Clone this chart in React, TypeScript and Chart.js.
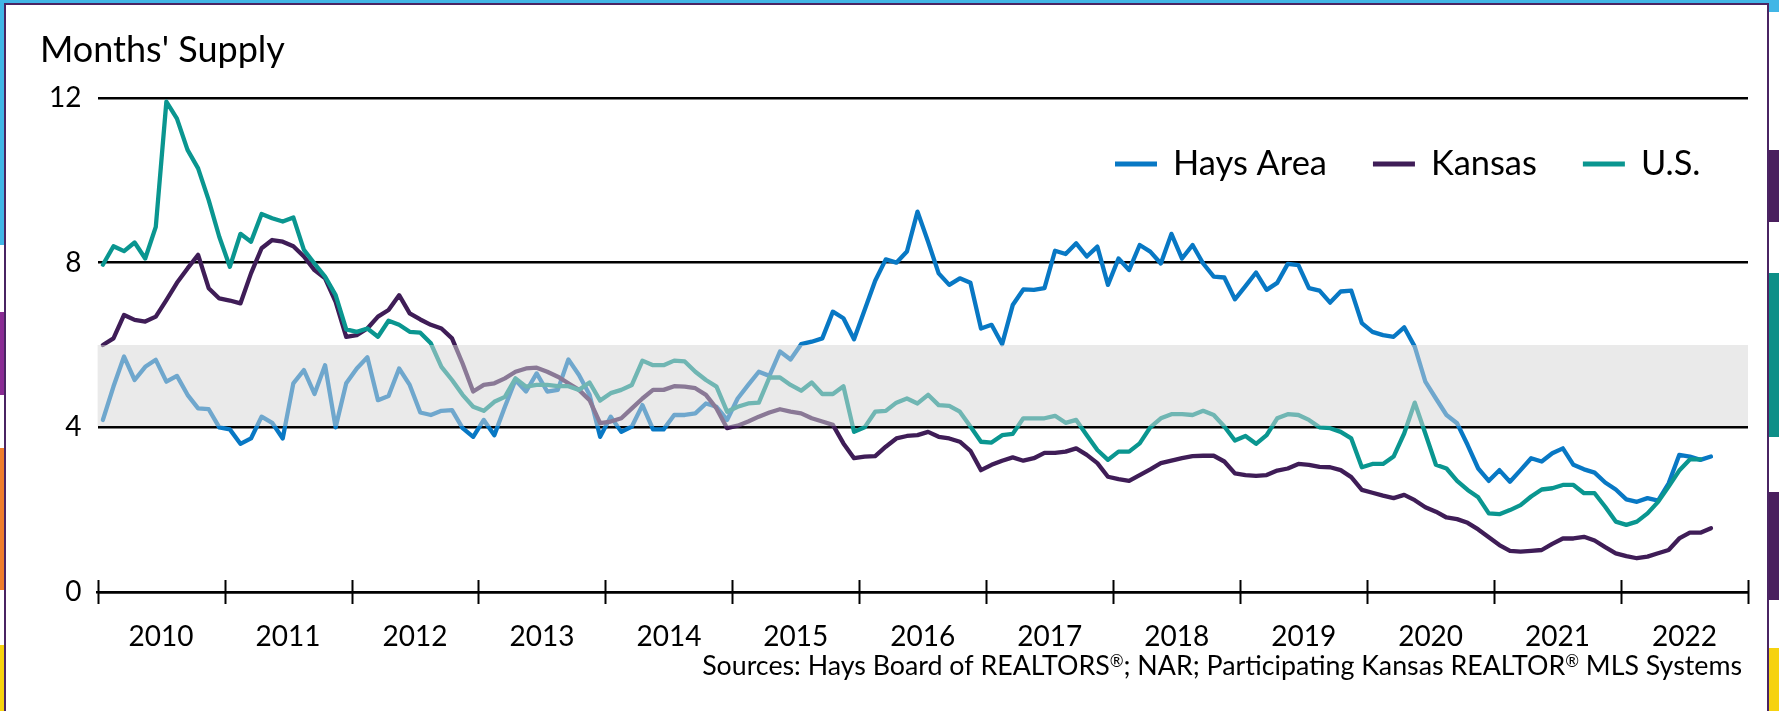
import React, { useEffect, useRef } from "react";
import { Chart, registerables } from "chart.js";

Chart.register(...registerables);

// ---------- data ----------
const YEARS = ["2010", "2011", "2012", "2013", "2014", "2015", "2016", "2017", "2018", "2019", "2020", "2021", "2022"];
const MONTHS = ["Jan", "Feb", "Mar", "Apr", "May", "Jun", "Jul", "Aug", "Sep", "Oct", "Nov", "Dec"];
const CATEGORIES = YEARS.flatMap((y) => MONTHS.map((m) => `${m} ${y}`));

const HAYS_AREA = [
  4.18, 4.99, 5.72, 5.15, 5.47, 5.64, 5.11, 5.25, 4.79, 4.46, 4.44, 4.0,
  3.95, 3.6, 3.73, 4.26, 4.11, 3.73, 5.07, 5.39, 4.81, 5.51, 4.0, 5.07,
  5.43, 5.7, 4.66, 4.76, 5.43, 5.03, 4.36, 4.3, 4.4, 4.42, 3.98, 3.77,
  4.18, 3.81, 4.5, 5.15, 4.87, 5.31, 4.87, 4.91, 5.65, 5.27, 4.79, 3.77,
  4.26, 3.89, 4.02, 4.54, 3.95, 3.95, 4.3, 4.3, 4.34, 4.58, 4.5, 4.18,
  4.7, 5.03, 5.35, 5.25, 5.84, 5.65, 6.02, 6.08, 6.16, 6.81, 6.65, 6.14,
  6.85, 7.56, 8.08, 8.0, 8.27, 9.24, 8.51, 7.74, 7.46, 7.62, 7.51, 6.4,
  6.49, 6.02, 6.97, 7.35, 7.34, 7.38, 8.29, 8.21, 8.47, 8.15, 8.39, 7.46,
  8.1, 7.82, 8.43, 8.27, 7.98, 8.7, 8.1, 8.43, 7.98, 7.66, 7.64, 7.11,
  7.43, 7.76, 7.34, 7.51, 7.97, 7.94, 7.38, 7.32, 7.03, 7.3, 7.32, 6.53,
  6.32, 6.24, 6.2, 6.43, 5.96, 5.11, 4.7, 4.3, 4.1, 3.57, 3.0, 2.7,
  2.96, 2.68, 2.96, 3.25, 3.17, 3.37, 3.49, 3.09, 2.98, 2.9, 2.66, 2.49,
  2.25, 2.19, 2.28, 2.22, 2.64, 3.33, 3.29, 3.21, 3.29,
];

const KANSAS = [
  6.0, 6.16, 6.73, 6.61, 6.57, 6.69, 7.09, 7.51, 7.86, 8.19, 7.38, 7.13,
  7.08, 7.01, 7.74, 8.35, 8.55, 8.51, 8.4, 8.15, 7.82, 7.62, 7.05, 6.2,
  6.24, 6.4, 6.69, 6.85, 7.21, 6.77, 6.62, 6.49, 6.4, 6.16, 5.55, 4.87,
  5.03, 5.07, 5.19, 5.35, 5.43, 5.45, 5.35, 5.23, 5.07, 4.91, 4.66, 4.1,
  4.14, 4.22, 4.46, 4.7, 4.91, 4.91, 5.0, 4.99, 4.95, 4.79, 4.46, 3.98,
  4.04, 4.14, 4.26, 4.36, 4.44, 4.38, 4.34, 4.22, 4.14, 4.06, 3.61, 3.25,
  3.29, 3.3, 3.53, 3.73, 3.79, 3.81, 3.89, 3.77, 3.73, 3.65, 3.43, 2.96,
  3.09, 3.19, 3.27, 3.19, 3.25, 3.38, 3.38, 3.41, 3.49, 3.33, 3.13, 2.8,
  2.74, 2.7, 2.84, 2.98, 3.13, 3.19, 3.25, 3.3, 3.31, 3.31, 3.17, 2.88,
  2.84, 2.82, 2.84, 2.95, 3.0, 3.11, 3.09, 3.04, 3.03, 2.96, 2.79, 2.48,
  2.41, 2.34, 2.28, 2.36, 2.23, 2.06, 1.95, 1.81, 1.77, 1.68, 1.52, 1.33,
  1.14, 1.0, 0.98, 1.0, 1.02, 1.17, 1.3, 1.3, 1.34, 1.25, 1.09, 0.94,
  0.87, 0.82, 0.86, 0.94, 1.02, 1.3, 1.44, 1.44, 1.55,
];

const US = [
  7.95, 8.4, 8.28, 8.49, 8.1, 8.87, 11.91, 11.5, 10.74, 10.29, 9.52, 8.63,
  7.9, 8.7, 8.51, 9.18, 9.08, 9.0, 9.1, 8.31, 7.98, 7.66, 7.21, 6.38,
  6.32, 6.4, 6.2, 6.59, 6.49, 6.32, 6.3, 6.04, 5.47, 5.15, 4.79, 4.5,
  4.4, 4.62, 4.74, 5.19, 4.99, 5.03, 5.03, 5.0, 5.0, 4.91, 5.09, 4.65,
  4.83, 4.91, 5.03, 5.62, 5.51, 5.51, 5.62, 5.6, 5.35, 5.15, 4.99, 4.38,
  4.5, 4.58, 4.6, 5.21, 5.21, 5.03, 4.89, 5.09, 4.81, 4.81, 5.0, 3.89,
  4.0, 4.38, 4.4, 4.6, 4.7, 4.58, 4.79, 4.54, 4.52, 4.38, 4.02, 3.65,
  3.63, 3.81, 3.84, 4.22, 4.22, 4.22, 4.28, 4.11, 4.18, 3.81, 3.45, 3.21,
  3.41, 3.41, 3.61, 4.0, 4.22, 4.32, 4.32, 4.3, 4.4, 4.3, 4.02, 3.68,
  3.79, 3.6, 3.81, 4.22, 4.32, 4.3, 4.18, 4.0, 3.98, 3.89, 3.73, 3.03,
  3.11, 3.11, 3.29, 3.85, 4.6, 3.85, 3.09, 3.0, 2.7, 2.48, 2.3, 1.91,
  1.89, 1.99, 2.11, 2.32, 2.49, 2.52, 2.6, 2.6, 2.4, 2.4, 2.07, 1.71,
  1.63, 1.71, 1.91, 2.19, 2.56, 2.95, 3.22, 3.22,
];

const SERIES_LABELS = ["Hays Area", "Kansas", "U.S."];
const SERIES_COLORS = ["#0878C4", "#3F1D57", "#0A9690"];
const Y_TICKS = [0, 4, 8, 12];
const BALANCED_BAND = [4, 6];
const TITLE = "Months' Supply";
const SOURCE = "Sources: Hays Board of REALTORS\u00AE; NAR; Participating Kansas REALTOR\u00AE MLS Systems";

const FONT = "Lato, 'Open Sans', sans-serif";

function fitSize(text: string, target: number): number {
  const c = document.createElement("canvas").getContext("2d")!;
  c.font = `100px ${FONT}`;
  const w = c.measureText(text).width;
  return (100 * target) / w;
}

// draw text right-aligned, with "®" as a small raised mark
function drawSourceText(ctx: CanvasRenderingContext2D, text: string, size: number, right: number, baseline: number) {
  const parts = text.split("\u00AE");
  const small = size * 0.62;
  const measure = (s: string, sz: number) => {
    ctx.font = `${sz}px ${FONT}`;
    return ctx.measureText(s).width;
  };
  let total = 0;
  parts.forEach((p, i) => {
    total += measure(p, size);
    if (i < parts.length - 1) total += measure("\u00AE", small);
  });
  let x = right - total;
  ctx.textAlign = "left";
  ctx.textBaseline = "alphabetic";
  parts.forEach((p, i) => {
    ctx.font = `${size}px ${FONT}`;
    ctx.fillText(p, x, baseline);
    x += ctx.measureText(p).width;
    if (i < parts.length - 1) {
      ctx.font = `${small}px ${FONT}`;
      ctx.fillText("\u00AE", x, baseline - size * 0.3);
      x += ctx.measureText("\u00AE").width;
    }
  });
}

export default function App() {
  const ref = useRef<HTMLCanvasElement | null>(null);

  useEffect(() => {
    const canvas = ref.current!;
    const tickSize = fitSize("2010", 65);
    const titleSize = fitSize(TITLE, 245);
    const legendSize = fitSize("Hays Area", 154);
    const sourceSize = fitSize(SOURCE.split("\u00AE").join(""), 1013);

    const decor = {
      id: "decor",
      afterDatasetsDraw(chart: any) {
        const { ctx, chartArea } = chart;
        const y = chart.scales.y;
        const top = y.getPixelForValue(BALANCED_BAND[1]);
        const bot = y.getPixelForValue(BALANCED_BAND[0]);
        ctx.save();
        ctx.fillStyle = "rgba(214,214,214,0.5)";
        ctx.fillRect(chartArea.left, top, chartArea.right - chartArea.left, bot - top - 1.3);
        ctx.restore();
      },
      afterDraw(chart: any) {
        const { ctx, chartArea } = chart;
        ctx.save();
        // year boundary ticks crossing the axis
        const n = YEARS.length;
        const w = (chartArea.right - chartArea.left) / n;
        ctx.strokeStyle = "#000";
        ctx.lineWidth = 2;
        for (let k = 0; k <= n; k++) {
          const px = Math.round(chartArea.left + k * w) + 0.5;
          ctx.beginPath();
          ctx.moveTo(px, chartArea.bottom - 12);
          ctx.lineTo(px, chartArea.bottom + 12);
          ctx.stroke();
        }
        // title
        ctx.fillStyle = "#000";
        ctx.textBaseline = "alphabetic";
        ctx.textAlign = "left";
        ctx.font = `${titleSize}px ${FONT}`;
        ctx.fillText(TITLE, 40, 62);
        // legend
        ctx.font = `${legendSize}px ${FONT}`;
        let x = 1115;
        const ly = 164;
        chart.data.datasets.forEach((ds: any) => {
          ctx.strokeStyle = ds.borderColor;
          ctx.lineWidth = 5;
          ctx.beginPath();
          ctx.moveTo(x, ly);
          ctx.lineTo(x + 42, ly);
          ctx.stroke();
          ctx.fillStyle = "#000";
          ctx.fillText(ds.label, x + 58, 175);
          x += 58 + ctx.measureText(ds.label).width + 46;
        });
        // source
        ctx.fillStyle = "#000";
        drawSourceText(ctx, SOURCE, sourceSize, 1742, 675);
        ctx.restore();
      },
    };

    const chart = new Chart(canvas, {
      type: "line",
      data: {
        labels: CATEGORIES,
        datasets: [HAYS_AREA, KANSAS, US].map((d, i) => ({
          label: SERIES_LABELS[i],
          data: d,
          borderColor: SERIES_COLORS[i],
          backgroundColor: SERIES_COLORS[i],
          borderWidth: 4.3,
          pointRadius: 0,
          tension: 0,
          fill: false,
          borderJoinStyle: "round",
          borderCapStyle: "round",
          order: 3 - i,
        })),
      },
      options: {
        animation: false,
        responsive: false,
        maintainAspectRatio: false,
        events: [],
        layout: { padding: { top: 98, right: 31, left: 0, bottom: 0 } },
        plugins: { legend: { display: false }, tooltip: { enabled: false } },
        scales: {
          x: { type: "category", offset: true, display: false },
          years: {
            type: "category",
            labels: YEARS,
            position: "bottom",
            offset: true,
            grid: { display: false },
            border: { display: true, color: "#000", width: 2.5 },
            ticks: {
              color: "#000",
              font: { family: FONT, size: tickSize },
              padding: 20,
              maxRotation: 0,
              autoSkip: false,
            },
            afterFit: (s: any) => {
              s.height = 119;
            },
          },
          y: {
            min: 0,
            max: 12,
            afterBuildTicks: (s: any) => {
              s.ticks = Y_TICKS.map((v) => ({ value: v }));
            },
            ticks: { color: "#000", font: { family: FONT, size: tickSize }, padding: 16 },
            grid: { color: "#000", lineWidth: 2.5, drawTicks: false },
            border: { display: false },
            afterFit: (s: any) => {
              s.width = 97.6;
            },
          },
        },
      },
      plugins: [decor],
    } as any);
    return () => chart.destroy();
  }, []);

  const strip = (style: React.CSSProperties) => <div style={{ position: "absolute", ...style }} />;

  return (
    <div style={{ position: "fixed", left: 0, top: 0, width: 1779, height: 711, background: "#fff", overflow: "hidden" }}>
      {strip({ left: 0, top: 0, width: 1779, height: 3, background: "#41B6E6" })}
      {strip({ left: 0, top: 0, width: 4, height: 245, background: "#41B6E6" })}
      {strip({ left: 0, top: 312, width: 4, height: 83, background: "#8A2B94" })}
      {strip({ left: 0, top: 448, width: 4, height: 142, background: "#EF7D2D" })}
      {strip({ left: 0, top: 645, width: 4, height: 66, background: "#F6D20F" })}
      {strip({ left: 4, top: 3, width: 1.5, height: 708, background: "#4A2463" })}
      {strip({ left: 4, top: 3, width: 1765, height: 1.5, background: "#4A2463" })}
      {strip({ left: 1767, top: 3, width: 1.5, height: 708, background: "#4A2463" })}
      {strip({ left: 1769, top: 0, width: 10, height: 12, background: "#41B6E6" })}
      {strip({ left: 1769, top: 150, width: 10, height: 72, background: "#4A1F5E" })}
      {strip({ left: 1769, top: 273, width: 10, height: 164, background: "#0E8F88" })}
      {strip({ left: 1769, top: 492, width: 10, height: 108, background: "#4A1F5E" })}
      {strip({ left: 1769, top: 648, width: 10, height: 63, background: "#F6D20F" })}
      <canvas ref={ref} width={1779} height={711} style={{ position: "absolute", left: 0, top: 0, width: 1779, height: 711 }} />
    </div>
  );
}
